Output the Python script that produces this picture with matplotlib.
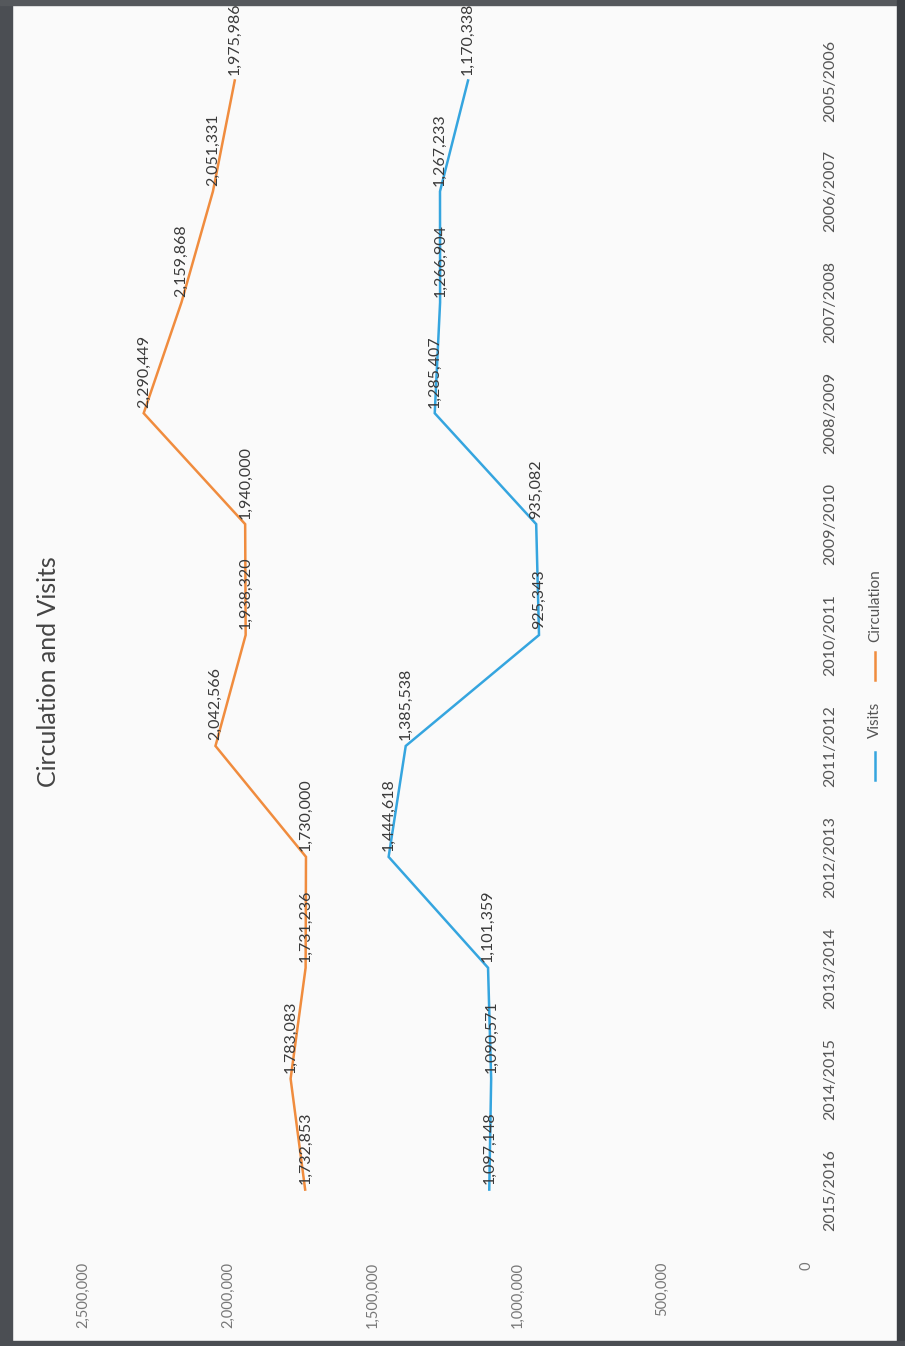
import matplotlib
matplotlib.use('Agg')
import matplotlib.pyplot as plt
from matplotlib.lines import Line2D
from matplotlib.patches import Rectangle

plt.rcParams['font.family'] = ['Lato', 'DejaVu Sans']

years = ['2015/2016', '2014/2015', '2013/2014', '2012/2013', '2011/2012', '2010/2011',
         '2009/2010', '2008/2009', '2007/2008', '2006/2007', '2005/2006']
visits = [1097148, 1090571, 1101359, 1444618, 1385538, 925343,
          935082, 1285407, 1266904, 1267233, 1170338]
circulation = [1732853, 1783083, 1731236, 1730000, 2042566, 1938320,
               1940000, 2290449, 2159868, 2051331, 1975986]
value_ticks = [0, 500000, 1000000, 1500000, 2000000, 2500000]

blue = '#35a5df'
orange = '#f08c3e'

fig = plt.figure(figsize=(9.05, 13.46), dpi=100)
fig.patch.set_facecolor('#fafafa')

# the page is scanned turned 90 degrees, so values run right-to-left along x
ax = fig.add_axes([0.0917, 0.075, 0.80, 0.9064])
ax.set_facecolor('none')
pos = list(range(len(years)))

ax.plot(visits, pos, color=blue, lw=1.8, solid_joinstyle='miter')
ax.plot(circulation, pos, color=orange, lw=1.8, solid_joinstyle='miter')

for series in (visits, circulation):
    for v, p in zip(series, pos):
        ax.annotate(f'{v:,}', (v, p), xytext=(0, 4), textcoords='offset points',
                    rotation=90, ha='center', va='bottom', fontsize=11.5, color='#3a3a3a')

ax.set_xlim(2500000, 0)
ax.set_ylim(-0.5, len(years) - 0.5)
ax.set_xticks(value_ticks)
ax.set_xticklabels([f'{t:,}' for t in value_ticks], rotation=90, fontsize=10.5, color='#777777')
ax.yaxis.tick_right()
ax.set_yticks(pos)
ax.set_yticklabels(years, rotation=90, va='center', fontsize=11.5, color='#555555')
ax.tick_params(axis='x', length=0, pad=12)
ax.tick_params(axis='y', length=0, pad=12)
for s in ax.spines.values():
    s.set_visible(False)

# title, sideways on the left
fig.text(48 / 905, 1 - 672 / 1346, 'Circulation and Visits', rotation=90,
         ha='center', va='center', fontsize=18, color='#444444')

# legend, drawn by hand because it is sideways too
fig.add_artist(Line2D([875 / 905, 875 / 905], [1 - 652 / 1346, 1 - 680 / 1346],
                      color=orange, lw=1.8))
fig.text(875 / 905, 1 - 606 / 1346, 'Circulation', rotation=90, ha='center', va='center',
         fontsize=11, color='#555555')
fig.add_artist(Line2D([875 / 905, 875 / 905], [1 - 752 / 1346, 1 - 780 / 1346],
                      color=blue, lw=1.8))
fig.text(875 / 905, 1 - 720 / 1346, 'Visits', rotation=90, ha='center', va='center',
         fontsize=11, color='#555555')

# dark scanner edges
fig.patches.append(Rectangle((0, 0), 12 / 905, 1, transform=fig.transFigure,
                             color='#4b4e53', zorder=-1))
fig.patches.append(Rectangle((0, 1 - 5 / 1346), 1, 5 / 1346, transform=fig.transFigure,
                             color='#55585c', zorder=-1))
fig.patches.append(Rectangle((897 / 905, 0), 8 / 905, 1, transform=fig.transFigure,
                             color='#3c3f44', zorder=-1))
fig.patches.append(Rectangle((0, 0), 1, 5 / 1346, transform=fig.transFigure,
                             color='#4b4e53', zorder=-1))

fig.savefig('out.png', dpi=100, facecolor=fig.get_facecolor())
